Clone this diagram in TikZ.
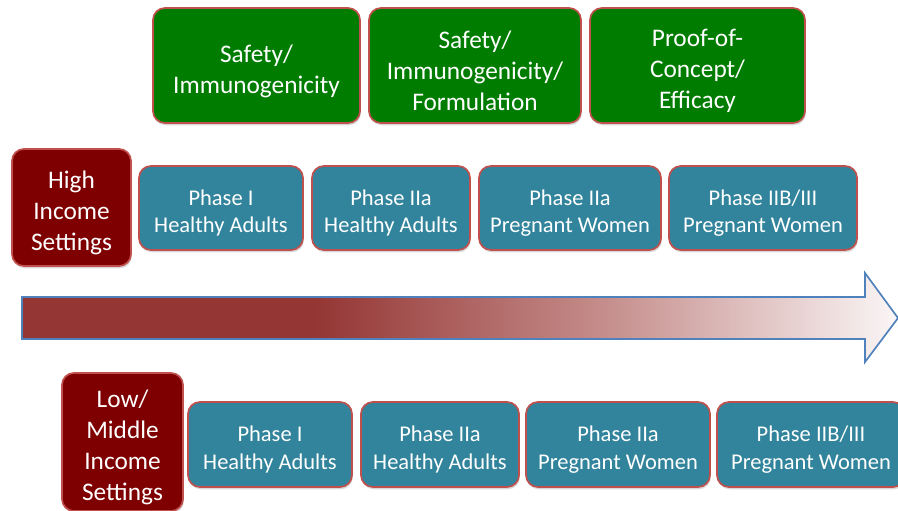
\documentclass[tikz,border=0pt]{standalone}
\usepackage{fontspec}
\setmainfont{Carlito}
\usetikzlibrary{shadows}
\definecolor{stagegreen}{RGB}{0, 125, 0}
\definecolor{settingred}{RGB}{127, 0, 0}
\definecolor{phaseteal}{RGB}{49, 132, 155}
\definecolor{edgered}{RGB}{192, 80, 77}
\definecolor{arrowred}{RGB}{148, 54, 52}
\definecolor{arrowmid}{RGB}{196, 140, 138}
\definecolor{arrowend}{RGB}{250, 246, 246}
\definecolor{arrowblue}{RGB}{79, 129, 189}
\pgfdeclarehorizontalshading{arrowfade}{100bp}{color(0bp)=(arrowred); color(41.7bp)=(arrowred); color(58bp)=(arrowmid); color(75bp)=(arrowend); color(100bp)=(arrowend)}
% taller first line, so the text sits a little low in its box
\newcommand{\lift}{\rule{0pt}{1.14em}}
\tikzset{
  box/.style={draw=edgered, line width=1.2pt, rounded corners=0.3cm, text=white,
    align=center, inner sep=0pt,
    drop shadow={shadow xshift=0.6pt, shadow yshift=-1.6pt, opacity=0.3}},
  stagebox/.style={box, fill=stagegreen, minimum height=2.875cm, font=\fontsize{18}{22}\selectfont},
  settingbox/.style={box, fill=settingred, font=\fontsize{18}{22}\selectfont},
  phasebox/.style={box, fill=phaseteal, font=\fontsize{16}{19.5}\selectfont}
}

\begin{document}
\begin{tikzpicture}[x=0.025cm, y=-0.025cm]
  \clip (0, 0) rectangle (898, 511);

  % Trial aims
  \node[stagebox, minimum width=5.175cm] (aim1) at (256.5, 65.5) {\lift Safety/\\Immunogenicity};
  \node[stagebox, minimum width=5.3cm] (aim2) at (475, 65.5) {\lift Safety/\\Immunogenicity/\\Formulation};
  \node[stagebox, minimum width=5.375cm] (aim3) at (697.5, 65.5) {\lift Proof-of-\\Concept/\\Efficacy};

  % High income
  \node[settingbox, minimum width=2.975cm, minimum height=2.925cm] (high) at (71.5, 207.5) {\lift High\\Income\\Settings};
  \node[phasebox, minimum width=4.1cm, minimum height=2.1cm] (hp1) at (221, 208) {\lift Phase I\\Healthy Adults};
  \node[phasebox, minimum width=3.95cm, minimum height=2.1cm] (hp2) at (391, 208) {\lift Phase IIa\\Healthy Adults};
  \node[phasebox, minimum width=4.55cm, minimum height=2.1cm] (hp3) at (570, 208) {\lift Phase IIa\\Pregnant Women};
  \node[phasebox, minimum width=4.7cm, minimum height=2.1cm] (hp4) at (763, 208) {\lift Phase IIB/III\\Pregnant Women};

  % Progress arrow
  \draw[arrowblue, line width=1.2pt, shading=arrowfade, line join=miter]
    (22, 297) -- (865, 297) -- (865, 273) -- (898, 318) -- (865, 362) -- (865, 339) -- (22, 339) -- cycle;

  % Low/middle income
  \node[settingbox, minimum width=3.025cm, minimum height=3.45cm] (low) at (122.5, 442) {\lift Low/\\Middle\\Income\\Settings};
  \node[phasebox, minimum width=4.1cm, minimum height=2.125cm] (lp1) at (270, 444.5) {\lift Phase I\\Healthy Adults};
  \node[phasebox, minimum width=3.95cm, minimum height=2.125cm] (lp2) at (440, 444.5) {\lift Phase IIa\\Healthy Adults};
  \node[phasebox, minimum width=4.6cm, minimum height=2.125cm] (lp3) at (618, 444.5) {\lift Phase IIa\\Pregnant Women};
  \node[phasebox, minimum width=4.7cm, minimum height=2.125cm] (lp4) at (811, 444.5) {\lift Phase IIB/III\\Pregnant Women};
\end{tikzpicture}
\end{document}
